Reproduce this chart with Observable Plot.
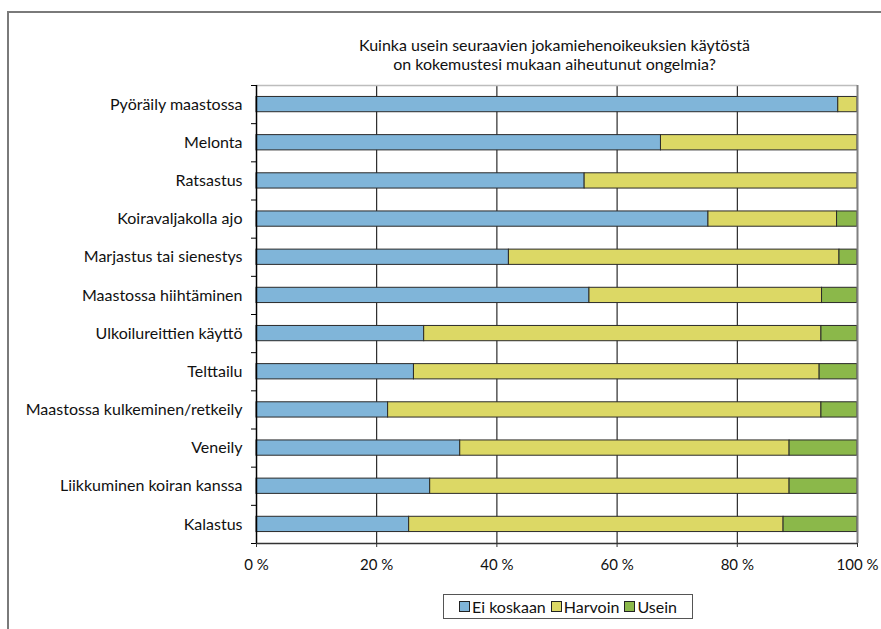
<!DOCTYPE html>
<html>
<head>
<meta charset="utf-8">
<script src="https://cdn.jsdelivr.net/npm/d3@7"></script>
<script src="https://cdn.jsdelivr.net/npm/@observablehq/plot@0.6"></script>
<style>
  html, body { margin: 0; padding: 0; background: #fff; }
  body { width: 881px; height: 629px; overflow: hidden; font-family: Lato, "Open Sans", sans-serif; color: #111; }
  #wrap { position: relative; width: 881px; height: 629px; }
  #frame { position: absolute; left: 7px; top: 11px; right: -10px; bottom: -10px; border-left: 2px solid #7a7a7a; border-top: 2px solid #7a7a7a; pointer-events: none; }
  #title { height: 78px; box-sizing: border-box; padding-top: 35px; text-align: center; font-size: 16px; line-height: 19px; padding-left: 228px; }
  #chart svg { display: block; }
  #legend { margin-top: 16px; margin-left: 443px; width: 250px; height: 25px; box-sizing: border-box; border: 1px solid #555; display: flex; align-items: center; justify-content: center; gap: 5px; font-size: 16px; }
  .item { display: flex; align-items: center; gap: 2px; }
  .sw { width: 9px; height: 9px; border: 1px solid #222; }
</style>
</head>
<body>
<div id="wrap">
  <div id="frame"></div>
  <div id="title">Kuinka usein seuraavien jokamiehenoikeuksien käytöstä<br>on kokemustesi mukaan aiheutunut ongelmia?</div>
  <div id="chart"></div>
  <div id="legend"></div>
</div>
<script>
const categories = [
  "Pyöräily maastossa",
  "Melonta",
  "Ratsastus",
  "Koiravaljakolla ajo",
  "Marjastus tai sienestys",
  "Maastossa hiihtäminen",
  "Ulkoilureittien käyttö",
  "Telttailu",
  "Maastossa kulkeminen/retkeily",
  "Veneily",
  "Liikkuminen koiran kanssa",
  "Kalastus"
];
const eiKoskaan = [96.8, 67.3, 54.6, 75.2, 42.0, 55.4, 27.9, 26.2, 21.9, 33.9, 28.9, 25.4];
const harvoin   = [3.2, 32.7, 45.4, 21.4, 55.0, 38.7, 66.1, 67.5, 72.1, 54.8, 59.8, 62.3];
const usein     = [0, 0, 0, 3.4, 3.0, 5.9, 6.0, 6.3, 6.0, 11.3, 11.3, 12.3];
const seriesNames = ["Ei koskaan", "Harvoin", "Usein"];
const seriesColors = ["#80b5d9", "#dcd865", "#8bb84a"];
const xTicks = [0, 20, 40, 60, 80, 100];

const seriesValues = [eiKoskaan, harvoin, usein];
const rows = [];
categories.forEach((c, i) => {
  let acc = 0;
  seriesValues.forEach((vals, s) => {
    const v = vals[i];
    rows.push({cat: c, idx: i, series: seriesNames[s], x1: acc, x2: acc + v});
    acc += v;
  });
});
const barRows = rows.filter(d => d.x2 - d.x1 > 0);

const plot = Plot.plot({
  width: 881,
  height: 500,
  marginLeft: 256,
  marginRight: 24,
  marginTop: 7,
  marginBottom: 35,
  style: {fontFamily: "Lato, 'Open Sans', sans-serif", color: "#111", background: "#fff"},
  x: {domain: [0, 100]},
  y: {domain: [0, categories.length], reverse: true},
  color: {domain: seriesNames, range: seriesColors},
  marks: [
    Plot.ruleX(xTicks.slice(1, -1), {stroke: "#000", strokeWidth: 1}),
    Plot.ruleY([0], {stroke: "#bdbdbd", strokeWidth: 1.5}),
    Plot.rectX(barRows, {
      x1: "x1", x2: "x2",
      y1: d => d.idx + 0.3, y2: d => d.idx + 0.7,
      fill: "series", stroke: "#2a2a2a", strokeWidth: 1
    }),
    Plot.ruleX([100], {stroke: "#808080", strokeWidth: 2}),
    Plot.ruleY([categories.length], {stroke: "#333", strokeWidth: 1.5}),
    Plot.ruleX([0], {stroke: "#000", strokeWidth: 1.5}),
    Plot.axisX({ticks: xTicks, tickFormat: d => d + " %", tickSize: 4, tickPadding: 12, fontSize: 15, label: null, stroke: "#333"}),
    Plot.axisY({ticks: d3.range(0, categories.length + 1), tickFormat: () => "", tickSize: 5, label: null, stroke: "#000"}),
    Plot.axisY({ticks: d3.range(categories.length).map(i => i + 0.5), tickFormat: v => categories[Math.floor(v)], tickSize: 0, tickPadding: 14, fontSize: 16, label: null})
  ]
});
document.getElementById("chart").appendChild(plot);

const legend = document.getElementById("legend");
seriesNames.forEach((n, i) => {
  const it = document.createElement("div");
  it.className = "item";
  const sw = document.createElement("div");
  sw.className = "sw";
  sw.style.background = seriesColors[i];
  const t = document.createElement("span");
  t.textContent = n;
  it.appendChild(sw);
  it.appendChild(t);
  legend.appendChild(it);
});
</script>
</body>
</html>
